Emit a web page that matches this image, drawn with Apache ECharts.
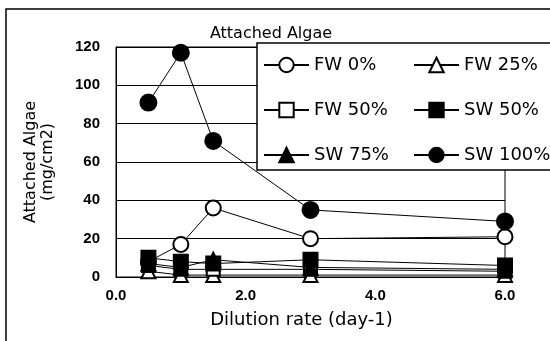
<!DOCTYPE html>
<html><head><meta charset="utf-8">
<script src="https://cdn.jsdelivr.net/npm/echarts@6/dist/echarts.min.js"></script>
<style>html,body{margin:0;padding:0;background:#fff}#c{width:550px;height:341px}</style>
</head><body><div id="c"></div>
<script>
const xValues = [0.5, 1.0, 1.5, 3.0, 6.0];
const seriesNames = ['FW 0%', 'FW 25%', 'FW 50%', 'SW 50%', 'SW 75%', 'SW 100%'];
const legendCol1 = ['FW 0%', 'FW 50%', 'SW 75%'];
const legendCol2 = ['FW 25%', 'SW 50%', 'SW 100%'];
const fw0   = [8, 17, 36, 20, 21];
const fw25  = [3, 1, 1, 1, 1];
const fw50  = [6, 4, 4, 4, 3];
const sw50  = [10, 8, 7, 9, 6];
const sw75  = [7, 5, 9, 5, 4];
const sw100 = [91, 117, 71, 35, 29];
const xTicks = [0, 2, 4, 6];
const yTicks = [0, 20, 40, 60, 80, 100, 120];

const FONT = '"DejaVu Sans", sans-serif';
const TICKFONT = '"Liberation Sans", Arial, sans-serif';
const styles = [
  {symbol:'circle', size:15, fill:'#fff'},
  {symbol:'triangle', size:14, fill:'#fff'},
  {symbol:'rect', size:13, fill:'#fff'},
  {symbol:'rect', size:14, fill:'#000'},
  {symbol:'triangle', size:14, fill:'#000'},
  {symbol:'circle', size:16, fill:'#000'}
];
const datasets = [fw0, fw25, fw50, sw50, sw75, sw100];
const series = datasets.map((d, i) => ({
  name: seriesNames[i], type: 'line',
  data: d.map((v, j) => [xValues[j], v]),
  symbol: styles[i].symbol, symbolSize: styles[i].size,
  lineStyle: {color:'#000', width:1},
  itemStyle: {color: styles[i].fill, borderColor:'#000', borderWidth:2},
  z: 2 + i
}));

const legendBase = {orient:'vertical', top:56, z:20,
  itemWidth:45, itemHeight:18, itemGap:27, padding:0,
  textStyle:{fontFamily:FONT, fontSize:18, color:'#000', lineHeight:18}};

const chart = echarts.init(document.getElementById('c'), null, {renderer:'canvas'});
chart.setOption({
  animation: false,
  backgroundColor: '#fff',
  title: {text:'Attached Algae', left:266, top:21, textAlign:'center',
    textStyle:{fontFamily:FONT, fontSize:16, fontWeight:'normal', color:'#000'}},
  grid: {left:116, top:47, right:45, bottom:64, show:true, borderColor:'#000', borderWidth:1},
  xAxis: {type:'value', min:0, max:6, interval:2,
    axisLine:{show:true, lineStyle:{color:'#000'}}, axisTick:{show:false},
    splitLine:{show:false},
    axisLabel:{color:'#000', fontFamily:TICKFONT, fontSize:15, fontWeight:'bold', margin:11,
      formatter: v => xTicks.includes(v) ? v.toFixed(1) : ''},
    name:'Dilution rate (day-1)', nameLocation:'middle', nameGap:34,
    nameTextStyle:{color:'#000', fontFamily:FONT, fontSize:18, padding:[0,18,0,0]}},
  yAxis: {type:'value', min:0, max:120, interval:20,
    axisLine:{show:true, lineStyle:{color:'#000'}}, axisTick:{show:false},
    splitLine:{show:true, lineStyle:{color:'#000', width:1}},
    axisLabel:{color:'#000', fontFamily:TICKFONT, fontSize:15, fontWeight:'bold', margin:16,
      formatter: v => yTicks.includes(v) ? String(v) : ''},
    name:'Attached Algae\n(mg/cm2)', nameLocation:'middle', nameGap:60, nameRotate:90,
    nameTextStyle:{color:'#000', fontFamily:FONT, fontSize:16, lineHeight:17}},
  legend: [
    Object.assign({}, legendBase, {data: legendCol1, left:263}),
    Object.assign({}, legendBase, {data: legendCol2, left:413})
  ],
  graphic: [
    {type:'rect', z:1, silent:true, shape:{x:6, y:9, width:560, height:345},
      style:{fill:null, stroke:'#000', lineWidth:1.5}},
    {type:'rect', z:10, silent:true, shape:{x:257, y:43, width:320, height:127},
      style:{fill:'#fff', stroke:'#000', lineWidth:1.5}}
  ],
  series: series
});
</script></body></html>
